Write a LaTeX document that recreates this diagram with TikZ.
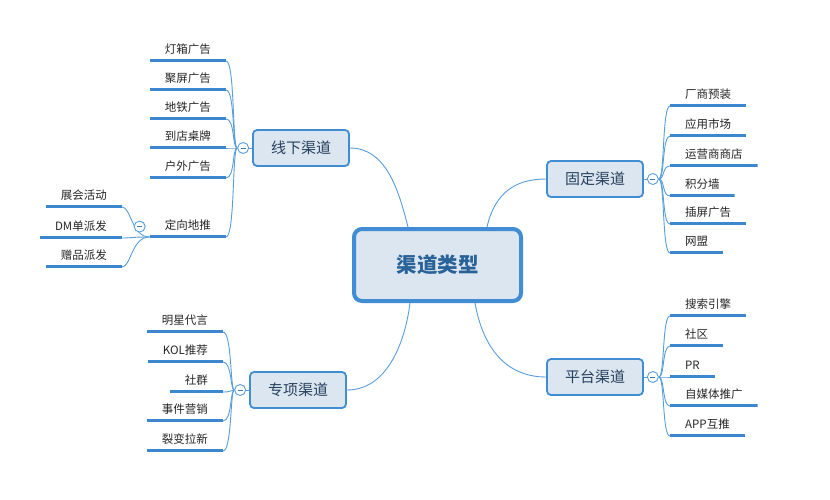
\documentclass[tikz,border=0pt]{standalone}
\usepackage{fontspec}
\setmainfont{Noto Sans CJK SC}
\usepackage{xcolor}
\definecolor{brd}{RGB}{64,141,212}
\definecolor{boxf}{RGB}{219,230,241}
\definecolor{conn}{RGB}{88,158,220}
\definecolor{uln}{RGB}{60,136,208}
\definecolor{mtext}{RGB}{40,64,92}
\definecolor{rtext}{RGB}{40,98,152}
\usetikzlibrary{positioning,backgrounds}

\begin{document}
\begin{tikzpicture}[x=1pt, y=-1pt,
  rootbox/.style={draw=brd, line width=4pt, fill=boxf, rounded corners=8pt, minimum width=167pt, minimum height=72pt,
    text=rtext, font=\fontsize{20.5}{24}\selectfont\bfseries},
  branch/.style={draw=brd, line width=1.8pt, fill=boxf, rounded corners=4pt, minimum width=96pt, minimum height=36pt,
    text=mtext, font=\fontsize{15}{18}\selectfont},
  leaf/.style={inner xsep=15pt, inner ysep=6pt, text height=9pt, text depth=2.5pt, yshift=-1.5pt,
    text=black!85, font=\fontsize{11.5}{13}\selectfont,
    path picture={\draw[uln, line width=3pt] ([yshift=1.5pt]path picture bounding box.south west)
      -- ([yshift=1.5pt]path picture bounding box.south east);}},
  leafL/.style={leaf, anchor=south east},
  leafR/.style={leaf, anchor=south west},
  fold/.style={circle, draw=conn, line width=0.9pt, fill=white, minimum size=11pt, inner sep=0pt,
    path picture={\draw[conn!75!black, line width=0.8pt] ([xshift=-2.5pt]path picture bounding box.center)
      -- ([xshift=2.5pt]path picture bounding box.center);}},
  link/.style={conn, line width=0.9pt}]
\useasboundingbox (0,0) rectangle (830,499);
% root and the four channel groups
\node[rootbox] (root) at (437.5,265) {渠道类型};
\node[branch] (xx) at (301,148) {线下渠道};
\node[branch] (zx) at (298,390) {专项渠道};
\node[branch] (gd) at (595,179) {固定渠道};
\node[branch] (pt) at (595,377) {平台渠道};
\node[fold, left=3pt of xx] (fxx) {};
\node[fold, left=3pt of zx] (fzx) {};
\node[fold, right=3pt of gd] (fgd) {};
\node[fold, right=3pt of pt] (fpt) {};
% offline
\node[leafL] (dx1) at (226,61) {灯箱广告};
\node[leafL] (dx2) at (226,90) {聚屏广告};
\node[leafL] (dx3) at (226,119) {地铁广告};
\node[leafL] (dx4) at (226,148) {到店桌牌};
\node[leafL] (dx5) at (226,178) {户外广告};
\node[leafL] (dx6) at (226,237) {定向地推};
\node[fold, left=4pt of dx6] (fdx) {};
\node[leafL] (dt1) at (122,207) {展会活动};
\node[leafL] (dt2) at (122,238) {DM单派发};
\node[leafL] (dt3) at (122,267) {赠品派发};
% special
\node[leafL] (zx1) at (223,332) {明星代言};
\node[leafL] (zx2) at (223,362) {KOL推荐};
\node[leafL] (zx3) at (223,392) {社群};
\node[leafL] (zx4) at (223,421) {事件营销};
\node[leafL] (zx5) at (223,451) {裂变拉新};
% fixed
\node[leafR] (gd1) at (670,106) {厂商预装};
\node[leafR] (gd2) at (670,136) {应用市场};
\node[leafR] (gd3) at (670,166) {运营商商店};
\node[leafR] (gd4) at (670,196) {积分墙};
\node[leafR] (gd5) at (670,224) {插屏广告};
\node[leafR] (gd6) at (670,253) {网盟};
% platform
\node[leafR] (pt1) at (670,316) {搜索引擎};
\node[leafR] (pt2) at (670,346) {社区};
\node[leafR] (pt3) at (670,377) {PR};
\node[leafR] (pt4) at (670,406) {自媒体推广};
\node[leafR] (pt5) at (670,436) {APP互推};
\begin{scope}[on background layer]
\fill[white] (0,0) rectangle (830,499);
\draw[link] (xx.east) .. controls +(35,0) and +(-10,-40) .. ([xshift=-29.5pt]root.north);
\draw[link] (gd.west) .. controls +(-30,0) and +(8,-35) .. ([xshift=49.5pt]root.north);
\draw[link] (zx.east) .. controls +(40,0) and +(-5,40) .. ([xshift=-27.5pt]root.south);
\draw[link] (pt.west) .. controls +(-40,0) and +(8,45) .. ([xshift=37.5pt]root.south);
\draw[link] (fxx.east) -- (xx.west);
\draw[link] (fzx.east) -- (zx.west);
\draw[link] (fgd.west) -- (gd.east);
\draw[link] (fpt.west) -- (pt.east);
\foreach \n in {dx1,dx2,dx3,dx4,dx5,dx6}
  \draw[link] (fxx.west) .. controls +(-5,0) and +(9,0) .. ([yshift=1.5pt]\n.south east);
\foreach \n in {dt1,dt2,dt3}
  \draw[link] ([yshift=1.5pt]dx6.south west) .. controls +(-18,0) and +(9,0) .. ([yshift=1.5pt]\n.south east);
\foreach \n in {zx1,zx2,zx3,zx4,zx5}
  \draw[link] (fzx.west) .. controls +(-4,0) and +(9,0) .. ([yshift=1.5pt]\n.south east);
\foreach \n in {gd1,gd2,gd3,gd4,gd5,gd6}
  \draw[link] (fgd.east) .. controls +(6,0) and +(-8,0) .. ([yshift=1.5pt]\n.south west);
\foreach \n in {pt1,pt2,pt3,pt4,pt5}
  \draw[link] (fpt.east) .. controls +(6,0) and +(-8,0) .. ([yshift=1.5pt]\n.south west);
\end{scope}
\end{tikzpicture}
\end{document}
